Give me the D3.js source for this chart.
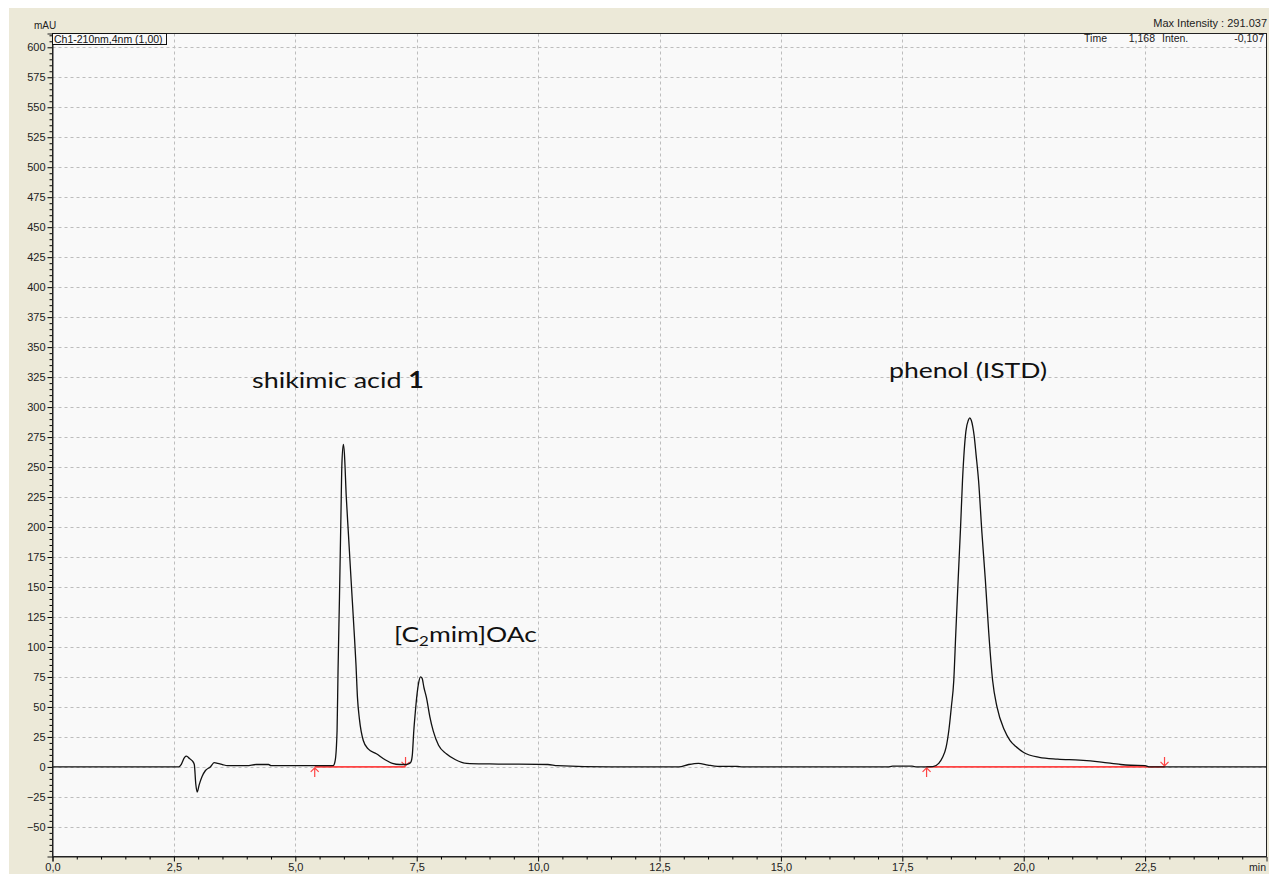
<!DOCTYPE html>
<html>
<head>
<meta charset="utf-8">
<script src="https://cdn.jsdelivr.net/npm/d3@7"></script>
<style>
html,body{margin:0;padding:0;background:#fff;}
svg{display:block;}
</style>
</head>
<body>
<svg id="chart" width="1269" height="874"></svg>
<script>
// ---- data ----
const timeMin = [0, 2.6, 2.65, 2.72, 2.76, 2.82, 2.88, 2.92, 2.95, 2.98, 3.02, 3.08, 3.15, 3.25, 3.33, 3.4, 3.5, 3.6, 4.0, 4.2, 4.45, 4.5, 5.0, 5.78,
  5.82, 5.86, 5.88, 5.91, 5.94, 5.96, 5.99, 6.01, 6.05, 6.09, 6.15, 6.21, 6.25, 6.28, 6.32, 6.40, 6.50, 6.67, 6.85, 7.0, 7.15, 7.27,
  7.33, 7.38, 7.41, 7.44, 7.47, 7.50, 7.54, 7.58, 7.61, 7.65, 7.70, 7.77, 7.84, 7.95, 8.11, 8.3, 8.53, 9.0, 10.2, 10.4, 11.5, 12.9, 13.1, 13.3, 13.5, 13.7, 14.1, 14.2,
  17.2, 17.3, 17.7, 17.8, 18.13, 18.25, 18.33, 18.40, 18.46, 18.51, 18.56, 18.60, 18.65, 18.70, 18.74, 18.81, 18.86, 18.89, 18.92, 18.95, 18.98, 19.02, 19.07, 19.14, 19.21, 19.28, 19.36, 19.45, 19.60, 19.72, 19.84, 20.0, 20.32, 20.7, 21.15, 21.6, 22.0, 22.2, 22.5, 22.6, 25];
const intensity = [0, 0, 2, 8, 9, 7, 5, 2, -14, -21, -15, -8, -3, 0, 3.5, 3, 2, 1, 1, 2, 2, 1, 1, 1,
  5, 30, 80, 142, 210, 253, 269, 262, 225, 197, 155, 114, 85, 58, 40, 22, 15, 11, 6, 3, 2, 2,
  2.5, 4, 10, 30, 45, 58, 70, 75, 74, 66, 58, 42, 30, 18, 11, 6, 3, 2.5, 2, 1, 0, 0, 2, 3, 1.5, 0.5, 0.5, 0,
  0, 0.6, 0.6, 0, 0.3, 3, 8, 16, 31, 50, 72, 110, 156, 200, 239, 280, 289, 291, 289, 284, 276, 260, 239, 195, 156, 112, 72, 50, 31, 22, 17, 12, 8, 6.5, 5.6, 4, 2, 1.4, 1, 0, 0];
const baselines = [[5.4, 7.27], [18.0, 22.9]];
const xTicks = [0, 2.5, 5, 7.5, 10, 12.5, 15, 17.5, 20, 22.5];
const yTicks = [-50, -25, 0, 25, 50, 75, 100, 125, 150, 175, 200, 225, 250, 275, 300, 325, 350, 375, 400, 425, 450, 475, 500, 525, 550, 575, 600];
const peakLabels = ["shikimic acid ", "[C2mim]OAc", "phenol (ISTD)"];

// ---- layout ----
const svg = d3.select("#chart");
const L = 52.5, R = 1266.5, T = 33.5, B = 856.5;
const x = d3.scaleLinear().domain([0, 25]).range([L, R]);
const y = d3.scaleLinear().domain([-74.7, 611.5]).range([B, T]);

svg.append("rect").attr("x", 9).attr("y", 8).attr("width", 1260).attr("height", 866).attr("fill", "#ECE9D8");
svg.append("rect").attr("x", L).attr("y", T).attr("width", R - L).attr("height", B - T).attr("fill", "#F9F9F9");

// grid
const grid = svg.append("g").attr("stroke", "#BDBDBD").attr("stroke-dasharray", "3,3").attr("stroke-width", 1);
xTicks.filter(d => d > 0).forEach(d => {
  grid.append("line").attr("x1", Math.round(x(d)) + 0.5).attr("x2", Math.round(x(d)) + 0.5).attr("y1", T).attr("y2", B);
});
yTicks.forEach(d => {
  grid.append("line").attr("x1", L).attr("x2", R).attr("y1", Math.round(y(d)) + 0.5).attr("y2", Math.round(y(d)) + 0.5);
});

// axes
const font = "'Liberation Sans', Arial, sans-serif";
const yMinor = d3.range(-70, 611, 5).filter(v => v % 25 !== 0);
const yAxis = d3.axisLeft(y).tickValues(yTicks).tickSize(5).tickFormat(d3.format("d"));
const gy = svg.append("g").attr("transform", `translate(${L},0)`).call(yAxis);
svg.append("g").attr("transform", `translate(${L},0)`).call(d3.axisLeft(y).tickValues(yMinor).tickSize(3).tickFormat(""))
  .call(g => g.select(".domain").remove());
const fmtX = d => d3.format(".1f")(d).replace(".", ",");
const xAxis = d3.axisBottom(x).tickValues(xTicks).tickSize(5).tickFormat(fmtX);
const gx = svg.append("g").attr("transform", `translate(0,${B})`).call(xAxis);
const xMinor = d3.range(0.5, 25, 0.5).filter(v => Math.abs(v % 2.5) > 1e-6);
svg.append("g").attr("transform", `translate(0,${B})`).call(d3.axisBottom(x).tickValues(xMinor).tickSize(3).tickFormat(""))
  .call(g => g.select(".domain").remove());
svg.selectAll(".tick text").attr("font-family", font).attr("font-size", 11).attr("fill", "#222");
gy.selectAll(".tick text").attr("dx", "0.1em");
gx.selectAll(".tick text").attr("dy", "0.55em");
svg.selectAll(".domain").attr("stroke", "#222");

// frame
svg.append("rect").attr("x", L).attr("y", T).attr("width", R - L).attr("height", B - T)
  .attr("fill", "none").attr("stroke", "#222").attr("stroke-width", 1);

// baselines
const red = "#FF4444";
baselines.forEach(([a, b]) => {
  svg.append("line").attr("x1", x(a)).attr("x2", x(b)).attr("y1", y(0)).attr("y2", y(0))
    .attr("stroke", red).attr("stroke-width", 1.6);
  const xa = x(a), xb = x(b), y0 = y(0);
  svg.append("path").attr("d", `M${xa},${y0 + 10}V${y0 + 1}M${xa - 4},${y0 + 5}L${xa},${y0 + 1}L${xa + 4},${y0 + 5}`)
    .attr("stroke", red).attr("fill", "none").attr("stroke-width", 1.2);
  svg.append("path").attr("d", `M${xb},${y0 - 10}V${y0 - 1}M${xb - 4},${y0 - 5}L${xb},${y0 - 1}L${xb + 4},${y0 - 5}`)
    .attr("stroke", red).attr("fill", "none").attr("stroke-width", 1.2);
});

// trace
const pts = timeMin.map((t, i) => [t, intensity[i]]);
svg.append("path").datum(pts)
  .attr("d", d3.line().x(d => x(d[0])).y(d => y(d[1])).curve(d3.curveMonotoneX))
  .attr("fill", "none").attr("stroke", "#111").attr("stroke-width", 1.3);

// header texts
svg.append("text").attr("x", 45).attr("y", 29).attr("text-anchor", "middle")
  .attr("font-family", font).attr("font-size", 10).attr("fill", "#222").text("mAU");
svg.append("text").attr("x", 1267).attr("y", 27).attr("text-anchor", "end")
  .attr("font-family", font).attr("font-size", 11).attr("fill", "#222").text("Max Intensity : 291.037");
svg.append("rect").attr("x", L).attr("y", T).attr("width", 114).attr("height", 11)
  .attr("fill", "#F9F9F9").attr("stroke", "#111").attr("stroke-width", 1);
svg.append("text").attr("x", 54).attr("y", 43).attr("font-family", font).attr("font-size", 10.5).attr("fill", "#111")
  .text("Ch1-210nm,4nm (1,00)");
const info = svg.append("g").attr("font-family", font).attr("font-size", 10.5).attr("fill", "#222");
info.append("text").attr("x", 1107).attr("y", 42).attr("text-anchor", "end").text("Time");
info.append("text").attr("x", 1155).attr("y", 42).attr("text-anchor", "end").text("1,168");
info.append("text").attr("x", 1162).attr("y", 42).text("Inten.");
info.append("text").attr("x", 1264).attr("y", 42).attr("text-anchor", "end").text("-0,107");
svg.append("text").attr("x", 1266).attr("y", 871).attr("text-anchor", "end")
  .attr("font-family", font).attr("font-size", 10.5).attr("fill", "#222").text("min");

// peak labels
const lf = "Lato, 'Open Sans', sans-serif";
const t1 = svg.append("text").attr("x", 252).attr("y", 388).attr("font-family", lf).attr("font-size", 22).attr("fill", "#111")
  .attr("textLength", 172).attr("lengthAdjust", "spacingAndGlyphs");
t1.append("tspan").text(peakLabels[0]);
t1.append("tspan").attr("font-weight", "bold").text("1");
const t2 = svg.append("text").attr("x", 394).attr("y", 642).attr("font-family", lf).attr("font-size", 22).attr("fill", "#111")
  .attr("textLength", 143).attr("lengthAdjust", "spacingAndGlyphs");
t2.append("tspan").text("[C");
t2.append("tspan").attr("font-size", 14).attr("dy", 4).text("2");
t2.append("tspan").attr("dy", -4).text("mim]OAc");
svg.append("text").attr("x", 889).attr("y", 378).attr("font-family", lf).attr("font-size", 22).attr("fill", "#111")
  .attr("textLength", 158).attr("lengthAdjust", "spacingAndGlyphs").text(peakLabels[2]);
</script>
</body>
</html>
